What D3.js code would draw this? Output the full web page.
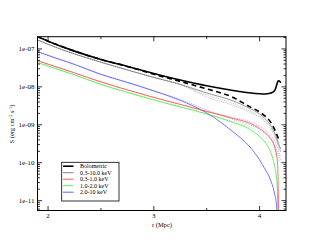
<!DOCTYPE html>
<html><head><meta charset="utf-8">
<script src="https://cdn.jsdelivr.net/npm/d3@7"></script>
<style>body{margin:0;background:#fff}svg{display:block}text{font-family:"Liberation Serif","Times New Roman",serif;fill:#000}</style>
</head><body>
<svg id="c" width="322" height="249"></svg>
<script>
// ---- data (r in Mpc, S in erg cm^-2 s^-1) ----
const xTicks = [2, 3, 4];
const yTicks = [1e-11, 1e-10, 1e-9, 1e-8, 1e-7];
const legendLabels = ["Bolometric", "0.3-10.0 keV", "0.3-1.0 keV", "1.0-2.0 keV", "2.0-10 keV"];

const rBand = [1.9, 2.0, 2.25, 2.5, 2.75, 3.0, 3.25, 3.5, 3.75, 3.9, 4.0, 4.05, 4.1, 4.14, 4.16, 4.18, 4.2];

const rBolo = [1.9, 2.0, 2.25, 2.5, 2.75, 3.0, 3.25, 3.5, 3.75, 3.9, 4.0, 4.05, 4.1, 4.13, 4.15, 4.165, 4.175, 4.185, 4.195, 4.2];
const sBolo = [2.11e-7, 1.60e-7, 8.75e-8, 5.28e-8, 3.46e-8, 2.26e-8, 1.52e-8, 1.07e-8, 8.05e-9, 7.00e-9, 6.59e-9, 6.51e-9, 6.79e-9, 7.34e-9, 8.81e-9, 1.19e-8, 1.43e-8, 1.45e-8, 1.35e-8, 1.27e-8];

const rBoloB = [1.9, 2.0, 2.25, 2.5, 2.75, 3.0, 3.25, 3.5, 3.75, 3.9, 4.0, 4.05, 4.1, 4.14, 4.16, 4.18];
const sBoloB = [2.11e-7, 1.60e-7, 8.75e-8, 5.28e-8, 3.46e-8, 2.15e-8, 1.39e-8, 8.81e-9, 5.26e-9, 3.05e-9, 2.18e-9, 1.71e-9, 1.23e-9, 7.78e-10, 5.74e-10, 4.24e-10];

const sBroad  = [1.73e-7, 1.32e-7, 7.38e-8, 4.46e-8, 2.79e-8, 1.77e-8, 1.16e-8, 6.92e-9, 4.26e-9, 2.78e-9, 1.93e-9, 1.47e-9, 1.02e-9, 6.49e-10, 4.65e-10, 3.13e-10, 2.31e-10];
const sBroadB = [1.73e-7, 1.32e-7, 7.38e-8, 4.46e-8, 2.79e-8, 1.77e-8, 1.16e-8, 6.12e-9, 3.66e-9, 2.39e-9, 1.71e-9, 1.30e-9, 9.06e-10, 5.74e-10, 4.11e-10, 2.86e-10, 2.05e-10];
const sBroadC = [1.73e-7, 1.32e-7, 7.38e-8, 4.46e-8, 2.79e-8, 1.77e-8, 1.16e-8, 5.43e-9, 3.24e-9, 2.18e-9, 1.56e-9, 1.19e-9, 8.26e-10, 5.24e-10, 3.75e-10, 2.61e-10, 1.87e-10];

const rSoft = [1.9, 2.0, 2.25, 2.5, 2.75, 3.0, 3.25, 3.5, 3.75, 3.9, 4.0, 4.05, 4.1, 4.14, 4.16, 4.17, 4.175, 4.18];
const sSoft = [4.92e-8, 3.97e-8, 2.33e-8, 1.35e-8, 8.30e-9, 5.26e-9, 3.44e-9, 2.25e-9, 1.47e-9, 1.12e-9, 8.02e-10, 6.30e-10, 4.51e-10, 2.77e-10, 1.60e-10, 9.86e-11, 3.52e-11, 3e-12];
const sSoftB = [4.92e-8, 3.97e-8, 2.33e-8, 1.35e-8, 8.30e-9, 5.26e-9, 3.44e-9, 2.25e-9, 1.56e-9, 1.23e-9, 9.06e-10, 7.31e-10, 5.41e-10, 3.75e-10, 2.86e-10, 2.05e-10, 1.42e-10];

const rMid = [1.9, 2.0, 2.25, 2.5, 2.75, 3.0, 3.25, 3.5, 3.75, 3.9, 4.0, 4.05, 4.1, 4.14, 4.16, 4.17, 4.175];
const sMid = [4.41e-8, 3.56e-8, 2.07e-8, 1.16e-8, 7.13e-9, 4.52e-9, 2.96e-9, 1.93e-9, 1.15e-9, 7.78e-10, 4.93e-10, 3.53e-10, 2.05e-10, 8.75e-11, 3.97e-11, 1.42e-11, 3e-12];
const sMidB = [4.41e-8, 3.56e-8, 2.07e-8, 1.16e-8, 7.13e-9, 4.52e-9, 2.96e-9, 1.93e-9, 1.23e-9, 8.79e-10, 6.30e-10, 4.93e-10, 3.53e-10, 2.31e-10, 1.71e-10, 1.26e-10, 9.57e-11];

const rHard = [1.9, 2.0, 2.25, 2.5, 2.75, 3.0, 3.25, 3.5, 3.75, 3.9, 4.0, 4.05, 4.1, 4.14, 4.16, 4.17];
const sHard = [8.49e-8, 6.75e-8, 3.90e-8, 2.13e-8, 1.31e-8, 7.82e-9, 4.39e-9, 2.06e-9, 6.49e-10, 2.77e-10, 1.19e-10, 6.86e-11, 3.74e-11, 1.60e-11, 7.71e-12, 3e-12];
const sHardB = [8.49e-8, 6.75e-8, 3.90e-8, 2.13e-8, 1.31e-8, 7.82e-9, 4.67e-9, 2.47e-9, 1.38e-9, 1.02e-9, 7.55e-10, 5.92e-10, 4.37e-10, 2.94e-10, 2.17e-10, 1.60e-10, 1.19e-10];

// ---- layout ----
const L = 37.5, R = 286, T = 36.7, B = 210.5;
const svg = d3.select("#c");
const x = d3.scaleLinear().domain([1.9, 4.25]).range([L, R]);
const y = d3.scaleLog().domain([5.5e-12, 2.1e-7]).range([B, T]);

svg.append("clipPath").attr("id", "clip").append("rect")
  .attr("x", L).attr("y", T).attr("width", R - L).attr("height", B - T);

const line = d3.line().x(d => x(d[0])).y(d => y(d[1])).curve(d3.curveMonotoneX);
const zip = (rs, ss) => rs.map((r, i) => [r, ss[i]]);

const series = [
  {r: rBand, s: sHardB, c: "#6f6fff", w: 0.6, dash: "1,1"},
  {r: rBand, s: sMidB,  c: "#66ee66", w: 0.6, dash: "1,1"},
  {r: rBand, s: sSoftB, c: "#ff6666", w: 0.6, dash: "1,1"},
  {r: rHard, s: sHard, c: "#3a3aff", w: 0.7},
  {r: rMid,  s: sMid,  c: "#2ee82e", w: 0.7},
  {r: rSoft, s: sSoft, c: "#ff3030", w: 0.7},
  {r: rBand, s: sBroadC, c: "#888", w: 0.55, dash: "1,1"},
  {r: rBand, s: sBroadB, c: "#888", w: 0.55, dash: "1,1"},
  {r: rBand, s: sBroad,  c: "#666", w: 0.7},
  {r: rBoloB, s: sBoloB, c: "#000", w: 1.6, dash: "5,3.5"},
  {r: rBolo,  s: sBolo,  c: "#000", w: 1.6}
];

const g = svg.append("g").attr("clip-path", "url(#clip)");
series.forEach(sr => {
  g.append("path").attr("d", line(zip(sr.r, sr.s)))
    .attr("fill", "none").attr("stroke", sr.c).attr("stroke-width", sr.w)
    .attr("stroke-dasharray", sr.dash || null);
});

// ---- frame & ticks ----
svg.append("rect").attr("x", L).attr("y", T).attr("width", R - L).attr("height", B - T)
  .attr("fill", "none").attr("stroke", "#000").attr("stroke-width", 1);

const tk = svg.append("g").attr("stroke", "#000").attr("stroke-width", 0.8);
const xMinor = [2.5, 3.5];
xTicks.forEach(v => {
  const px = x(v);
  tk.append("line").attr("x1", px).attr("x2", px).attr("y1", B).attr("y2", B - 4.5);
  tk.append("line").attr("x1", px).attr("x2", px).attr("y1", T).attr("y2", T + 4.5);
});
xMinor.forEach(v => {
  const px = x(v);
  tk.append("line").attr("x1", px).attr("x2", px).attr("y1", B).attr("y2", B - 2.5);
  tk.append("line").attr("x1", px).attr("x2", px).attr("y1", T).attr("y2", T + 2.5);
});
const [ymin, ymax] = y.domain();
for (let e = -12; e <= -7; e++) {
  for (let k = 1; k <= 9; k++) {
    const v = k * Math.pow(10, e);
    if (v < ymin || v > ymax) continue;
    const py = y(v), len = k === 1 ? 4.5 : 2.5;
    tk.append("line").attr("x1", L).attr("x2", L + len).attr("y1", py).attr("y2", py);
    tk.append("line").attr("x1", R).attr("x2", R - len).attr("y1", py).attr("y2", py);
  }
}

// ---- tick labels ----
xTicks.forEach(v => {
  svg.append("text").attr("x", x(v)).attr("y", 217.5).attr("text-anchor", "middle")
    .attr("font-size", 7).text(v);
});
yTicks.forEach(v => {
  const e = Math.round(Math.log10(v));
  svg.append("text").attr("x", 34.5).attr("y", y(v)).attr("dy", "0.35em")
    .attr("text-anchor", "end").attr("font-size", 7)
    .text("1e-" + String(-e).padStart(2, "0"));
});

// ---- axis titles ----
svg.append("text").attr("x", 162).attr("y", 226.5).attr("text-anchor", "middle")
  .attr("font-size", 6.5).text("r (Mpc)");
const yl = svg.append("text").attr("transform", "translate(14,124) rotate(-90)")
  .attr("text-anchor", "middle").attr("font-size", 6.5);
yl.append("tspan").text("S (erg cm");
yl.append("tspan").attr("dy", -2.5).attr("font-size", 4.5).text("-2");
yl.append("tspan").attr("dy", 2.5).text(" s");
yl.append("tspan").attr("dy", -2.5).attr("font-size", 4.5).text("-1");
yl.append("tspan").attr("dy", 2.5).text(")");

// ---- legend ----
const lg = svg.append("g");
lg.append("rect").attr("x", 61.7).attr("y", 162.3).attr("width", 57.3).attr("height", 38.7)
  .attr("fill", "#fff").attr("stroke", "#000").attr("stroke-width", 0.8);
const legendStyle = [
  {c: "#000", w: 1.6}, {c: "#666", w: 0.8}, {c: "#ff3030", w: 0.8}, {c: "#2ee82e", w: 0.8}, {c: "#3a3aff", w: 0.8}
];
legendLabels.forEach((lab, i) => {
  const cy = 166.2 + i * 6.5;
  lg.append("line").attr("x1", 63).attr("x2", 73.5).attr("y1", cy).attr("y2", cy)
    .attr("stroke", legendStyle[i].c).attr("stroke-width", legendStyle[i].w);
  lg.append("text").attr("x", 80).attr("y", cy).attr("dy", "0.35em").attr("font-size", 6).text(lab);
});
</script>
</body></html>
